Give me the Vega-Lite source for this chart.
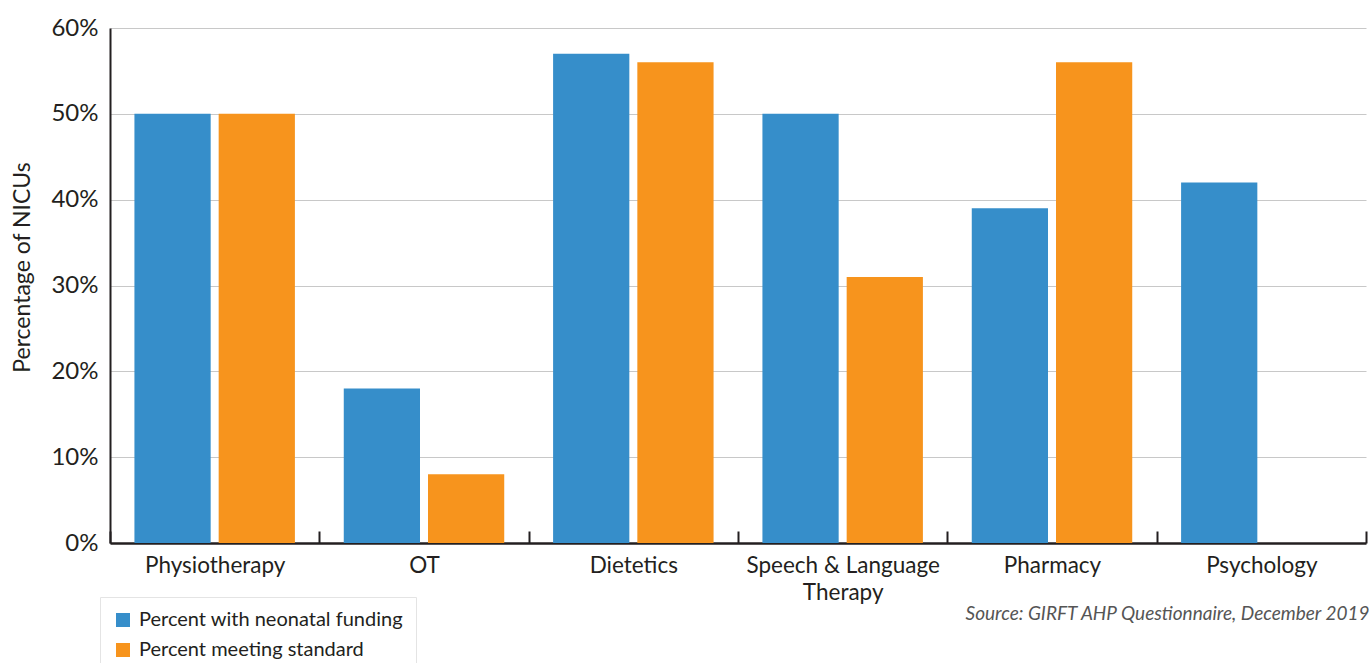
{
  "$schema": "https://vega.github.io/schema/vega-lite/v6.json",
  "width": 1256,
  "height": 515,
  "autosize": {"type": "none"},
  "padding": {"left": 110, "top": 28, "right": 5, "bottom": 120},
  "background": "white",
  "config": {
    "font": "Lato",
    "view": {"stroke": null},
    "axis": {"labelColor": "#231f20", "titleColor": "#231f20", "labelFont": "Lato", "titleFont": "Lato"},
    "legend": {"labelFont": "Lato"}
  },
  "data": {
    "values": [
      {"service": "Physiotherapy", "measure": "Percent with neonatal funding", "pct": 50},
      {"service": "Physiotherapy", "measure": "Percent meeting standard", "pct": 50},
      {"service": "OT", "measure": "Percent with neonatal funding", "pct": 18},
      {"service": "OT", "measure": "Percent meeting standard", "pct": 8},
      {"service": "Dietetics", "measure": "Percent with neonatal funding", "pct": 57},
      {"service": "Dietetics", "measure": "Percent meeting standard", "pct": 56},
      {"service": "Speech & Language Therapy", "measure": "Percent with neonatal funding", "pct": 50},
      {"service": "Speech & Language Therapy", "measure": "Percent meeting standard", "pct": 31},
      {"service": "Pharmacy", "measure": "Percent with neonatal funding", "pct": 39},
      {"service": "Pharmacy", "measure": "Percent meeting standard", "pct": 56},
      {"service": "Psychology", "measure": "Percent with neonatal funding", "pct": 42}
    ]
  },
  "mark": {"type": "bar"},
  "encoding": {
    "x": {
      "field": "service",
      "type": "nominal",
      "sort": ["Physiotherapy", "OT", "Dietetics", "Speech & Language Therapy", "Pharmacy", "Psychology"],
      "scale": {"paddingInner": 0, "paddingOuter": 0},
      "axis": {
        "title": "Source: GIRFT AHP Questionnaire, December 2019",
        "titleFontSize": 19,
        "titleFontStyle": "italic",
        "titleFontWeight": "normal",
        "titleColor": "#555555",
        "titleAlign": "right",
        "titleAnchor": null,
        "titleBaseline": "alphabetic",
        "titleX": 1259,
        "titleY": 76,
        "labelAngle": 0,
        "labelFontSize": 22.5,
        "labelPadding": 23,
        "labelLineHeight": 27,
        "labelLimit": 400,
        "labelExpr": "datum.label == 'Speech & Language Therapy' ? ['Speech & Language', 'Therapy'] : datum.label",
        "tickBand": "extent",
        "tickSize": -12,
        "tickColor": "#231f20",
        "tickWidth": 2,
        "domainColor": "#231f20",
        "domainWidth": 2.5
      }
    },
    "xOffset": {
      "field": "measure",
      "type": "nominal",
      "sort": ["Percent with neonatal funding", "Percent meeting standard"],
      "scale": {"paddingInner": 0.095, "paddingOuter": 0.29}
    },
    "y": {
      "field": "pct",
      "type": "quantitative",
      "scale": {"domain": [0, 60], "nice": false},
      "axis": {
        "title": "Percentage of NICUs",
        "titleFontSize": 23,
        "titleFontWeight": "normal",
        "titleAngle": -90,
        "titleAlign": "center",
        "titleBaseline": "middle",
        "titleX": -88,
        "titleY": 239,
        "values": [0, 10, 20, 30, 40, 50, 60],
        "labelExpr": "datum.value + '%'",
        "labelFontSize": 24,
        "labelPadding": 12,
        "ticks": false,
        "grid": true,
        "gridColor": "#c8c8c8",
        "gridWidth": 1,
        "domainColor": "#231f20",
        "domainWidth": 2
      }
    },
    "color": {
      "field": "measure",
      "type": "nominal",
      "scale": {
        "domain": ["Percent with neonatal funding", "Percent meeting standard"],
        "range": ["#368eca", "#f7941d"]
      },
      "legend": {
        "title": null,
        "orient": "none",
        "legendX": -10,
        "legendY": 569,
        "fillColor": "white",
        "strokeColor": "#e4e4e4",
        "padding": 13,
        "symbolType": "square",
        "symbolSize": 196,
        "symbolStrokeWidth": 0,
        "labelFontSize": 20,
        "labelColor": "#231f20",
        "labelOffset": 6,
        "rowPadding": 10,
        "labelLimit": 400
      }
    }
  }
}
